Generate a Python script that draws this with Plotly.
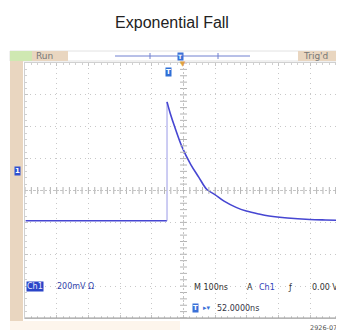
import numpy as np
import plotly.graph_objs as go

# trace (time in ns, amplitude in mV, 200 mV/div, 100 ns/div)
t_base = [-446, -300, -150, 0]
v_base = [-190, -190, -190, -190]

t_edge = [0, 0]
v_edge = [-190, 556]

t_fall = [0, 10, 25, 47, 75, 100, 126, 150, 180, 218, 250, 290, 322, 380, 450, 500, 552]
v_fall = [556, 485, 395, 275, 162, 84, 6, -24, -67, -106, -129, -148, -160, -173, -182, -185, -187]

# page has an 8px body margin, so the figure is drawn 8px in from the top-left
OFF = 8
W, H = 344 - OFF, 335 - OFF
L, R, T, B = 25 - OFF, 2, 63 - OFF, 17
PW, PH = 317, 255


def px(x):
    return (x - 25) / PW


def py(y):
    return (318 - y) / PH


blue = "#4646d2"
tan = "#e9d6c0"

data = []
data.append(go.Scatter(x=t_base, y=v_base, mode='lines', line=dict(color=blue, width=1.6)))
data.append(go.Scatter(x=t_edge, y=v_edge, mode='lines', line=dict(color="#9a9ae6", width=1)))
data.append(go.Scatter(x=t_fall, y=v_fall, mode='lines', line=dict(color=blue, width=1.6, shape='spline')))

# centre-line graticule ticks
tx = np.arange(-448, 553, 20)
data.append(go.Scatter(x=tx, y=[0] * len(tx), mode='markers',
                       marker=dict(symbol='line-ns', size=5, line=dict(color='#b4b4b4', width=1))))
ty = np.arange(-800, 801, 40)
data.append(go.Scatter(x=[52] * len(ty), y=ty, mode='markers',
                       marker=dict(symbol='line-ew', size=5, line=dict(color='#b4b4b4', width=1))))

fig = go.Figure(data)

shapes = []
# top status bar
shapes.append(dict(type='rect', xref='paper', yref='paper', x0=px(10), x1=px(340), y0=py(61), y1=py(51),
                   fillcolor='white', line=dict(color='#e2e2e2', width=1), layer='below'))
shapes.append(dict(type='rect', xref='paper', yref='paper', x0=px(10), x1=px(32), y0=py(61), y1=py(51),
                   fillcolor='#cfe8b2', line_width=0))
shapes.append(dict(type='rect', xref='paper', yref='paper', x0=px(32), x1=px(68), y0=py(61), y1=py(51),
                   fillcolor=tan, line_width=0))
shapes.append(dict(type='rect', xref='paper', yref='paper', x0=px(298), x1=px(340), y0=py(61), y1=py(51),
                   fillcolor=tan, line_width=0))
shapes.append(dict(type='line', xref='paper', yref='paper', x0=px(115), x1=px(250), y0=py(56), y1=py(56),
                   line=dict(color='#7080d0', width=1)))
for xx in (150, 218):
    shapes.append(dict(type='line', xref='paper', yref='paper', x0=px(xx), x1=px(xx), y0=py(53), y1=py(59),
                       line=dict(color='#7080d0', width=1)))
# left strip
shapes.append(dict(type='rect', xref='paper', yref='paper', x0=px(10), x1=px(23), y0=py(321), y1=py(61),
                   fillcolor=tan, line_width=0))
shapes.append(dict(type='rect', xref='paper', yref='paper', x0=px(10), x1=px(180), y0=py(330), y1=py(321),
                   fillcolor='#fdf5ec', line_width=0))
# centre lines
shapes.append(dict(type='line', xref='x', yref='y', x0=-448, x1=552, y0=0, y1=0,
                   line=dict(color='#c4c4c4', width=1, dash='2px,2px')))
shapes.append(dict(type='line', xref='x', yref='y', x0=52, x1=52, y0=-800, y1=800,
                   line=dict(color='#c4c4c4', width=1, dash='2px,2px')))
# bottom frame line
shapes.append(dict(type='line', xref='paper', yref='paper', x0=0, x1=1, y0=0, y1=0,
                   line=dict(color='#9a9a9a', width=1)))

fnt = "DejaVu Sans"
ann = []


def note(x, y, text, color='#333', size=9, xanchor='left', bg=None, family=fnt):
    d = dict(xref='paper', yref='paper', x=px(x), y=py(y), text=text, showarrow=False,
             xanchor=xanchor, yanchor='middle', font=dict(family=family, size=size, color=color))
    if bg:
        d['bgcolor'] = bg
        d['borderpad'] = 0
    ann.append(d)


note(34, 56, "Run", color='#777', size=9)
note(301, 56, "Trig'd", color='#777', size=9)
note(180, 56, "<b>T</b>", color='white', size=6, xanchor='center', bg='#3a70d8')
note(183, 63.5, "▼", color='#e0a040', size=7, xanchor='center')
note(168, 72, "<b>T</b>", color='white', size=7, xanchor='center', bg='#2f6fd6')
note(17, 171, "<b>1</b>", color='white', size=7, xanchor='center', bg='#3050d0')
note(338, 170, "◂", color='#5a6ab0', size=9, xanchor='center')
note(26, 286, "Ch1", color='#e8ecff', size=8, bg='#2a44c8')
note(55, 286, "200mV Ω", color='#3344aa', size=8)
note(192, 287, "M 100ns", color='#333', size=8)
note(245, 287, "A", color='#333', size=8)
note(257, 287, "Ch1", color='#3344bb', size=8)
note(286, 287, "ƒ", color='#333', size=8)
note(340, 287, "0.00 V", color='#333', size=8, xanchor='right')
note(192, 308, "<b>T</b>", color='white', size=7, bg='#3a70d8')
note(201, 308, "▸▾", color='#3a70d8', size=7)
note(215, 308, "52.0000ns", color='#334', size=8)
note(343, 328, "2926-073", color='#555', size=6.5, xanchor='right')

fig.update_layout(
    width=W, height=H,
    margin=dict(l=L, r=R, t=T, b=B),
    paper_bgcolor='white', plot_bgcolor='white',
    showlegend=False,
    title=dict(text="Exponential Fall", x=(172 - OFF) / W, xref='container', xanchor='center',
               y=1 - (22 - OFF) / H, yref='container', yanchor='middle',
               font=dict(family="Liberation Sans, Arial, sans-serif", size=16, color='#222')),
    shapes=shapes, annotations=ann,
    xaxis=dict(range=[-448, 552], tick0=52, dtick=100, showgrid=True, gridcolor='#c8c8c8',
               griddash='1px,4px', zeroline=False, showticklabels=False,
               ticks='inside', ticklen=3, tickcolor='#c4c4c4', showline=True, linecolor='#d0d0d0',
               mirror='allticks', minor=dict(tick0=52, dtick=20, ticks='inside', ticklen=2, tickcolor='#d0d0d0')),
    yaxis=dict(range=[-800, 800], tick0=0, dtick=200, showgrid=True, gridcolor='#c8c8c8',
               griddash='1px,4px', zeroline=False, showticklabels=False,
               ticks='inside', ticklen=3, tickcolor='#c4c4c4', showline=True, linecolor='#d0d0d0',
               mirror='allticks', minor=dict(tick0=0, dtick=40, ticks='inside', ticklen=2, tickcolor='#d0d0d0')),
)

fig.write_html("out.html")
